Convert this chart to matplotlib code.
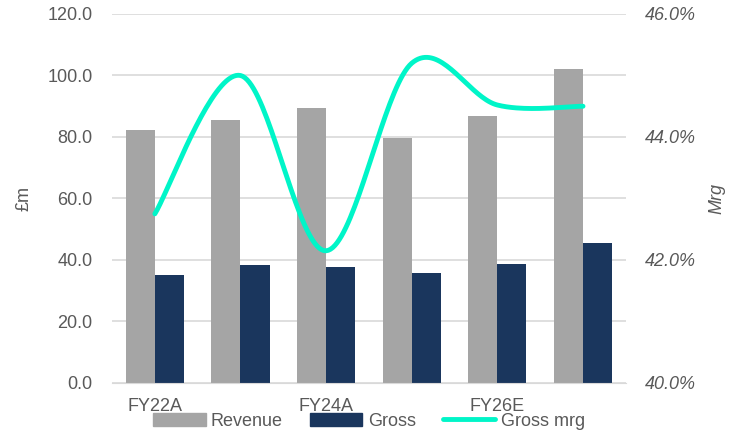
import numpy as np
import matplotlib
matplotlib.use("Agg")
import matplotlib.pyplot as plt
from matplotlib.patches import Patch
from matplotlib.lines import Line2D

# data
years = ["FY22A", "FY23A", "FY24A", "FY25E", "FY26E", "FY27E"]
revenue = [82.3, 85.4, 89.4, 79.6, 86.9, 102.2]
gross = [35.0, 38.3, 37.6, 35.9, 38.7, 45.5]
gross_mrg = [42.75, 45.0, 42.15, 45.2, 44.52, 44.5]  # %

grey = "#A5A5A5"
navy = "#1A365D"
cyan = "#00F5C8"
txt = "#595959"

plt.rcParams["font.family"] = ["Liberation Sans", "DejaVu Sans"]

fig = plt.figure(figsize=(7.38, 4.36), dpi=100)
ax = fig.add_axes([0.1518, 0.1216, 0.6962, 0.8463])
ax2 = ax.twinx()

x = np.arange(len(years))
w = 0.34
ax.bar(x - w / 2, revenue, w, color=grey, zorder=2)
ax.bar(x + w / 2, gross, w, color=navy, zorder=2)

ax.set_xlim(-0.5, len(years) - 0.5)
ax.set_ylim(0, 120)
ax.set_yticks(np.arange(0, 121, 20))
ax.set_yticklabels([f"{v:.1f}" for v in np.arange(0, 121, 20)])
ax.grid(axis="y", color="#D9D9D9", linewidth=1.2, zorder=0)
ax.set_axisbelow(True)
ax.set_xticks(x)
ax.set_xticklabels([y if i % 2 == 0 else "" for i, y in enumerate(years)])
ax.tick_params(axis="both", length=0, labelsize=13, colors=txt)
ax.tick_params(axis="x", pad=11)
ax.tick_params(axis="y", pad=14)
ax.set_ylabel("£m", fontsize=13, color=txt, fontstyle="normal", labelpad=11)
for s in ["top", "right", "left"]:
    ax.spines[s].set_visible(False)
ax.spines["bottom"].set_color("#D9D9D9")

# smooth line, Catmull-Rom between the points (like Excel's smoothed line)
px = x.astype(float)
py = np.array(gross_mrg)
sx, sy = [], []
n = len(px)
for i in range(n - 1):
    p0 = (px[max(i - 1, 0)], py[max(i - 1, 0)])
    p1 = (px[i], py[i])
    p2 = (px[i + 1], py[i + 1])
    p3 = (px[min(i + 2, n - 1)], py[min(i + 2, n - 1)])
    c1 = (p1[0] + (p2[0] - p0[0]) / 6, p1[1] + (p2[1] - p0[1]) / 6)
    c2 = (p2[0] - (p3[0] - p1[0]) / 6, p2[1] - (p3[1] - p1[1]) / 6)
    t = np.linspace(0, 1, 40)
    bx = (1 - t) ** 3 * p1[0] + 3 * (1 - t) ** 2 * t * c1[0] + 3 * (1 - t) * t ** 2 * c2[0] + t ** 3 * p2[0]
    by = (1 - t) ** 3 * p1[1] + 3 * (1 - t) ** 2 * t * c1[1] + 3 * (1 - t) * t ** 2 * c2[1] + t ** 3 * p2[1]
    sx.extend(bx)
    sy.extend(by)
ax2.plot(sx, sy, color=cyan, linewidth=3.5, solid_capstyle="round", zorder=3)

ax2.set_ylim(40, 46)
ax2.set_yticks(np.arange(40, 46.1, 2))
ax2.set_yticklabels([f"{v:.1f}%" for v in np.arange(40, 46.1, 2)], fontstyle="italic")
ax2.tick_params(axis="y", length=0, labelsize=13, colors=txt, pad=14)
ax2.set_ylabel("Mrg", fontsize=13, color=txt, fontstyle="italic", labelpad=9)
for s in ax2.spines.values():
    s.set_visible(False)

handles = [
    Patch(color=grey, label="Revenue"),
    Patch(color=navy, label="Gross"),
    Line2D([0], [0], color=cyan, linewidth=3.5, solid_capstyle="round", label="Gross mrg"),
]
leg = fig.legend(handles=handles, loc="center", bbox_to_anchor=(0.5, 0.034), ncol=3,
                 frameon=False, fontsize=13, handlelength=2.9, handleheight=0.8,
                 handletextpad=0.3, columnspacing=1.5, borderpad=0)
for t in leg.get_texts():
    t.set_color(txt)

fig.savefig("out.png", dpi=100)
